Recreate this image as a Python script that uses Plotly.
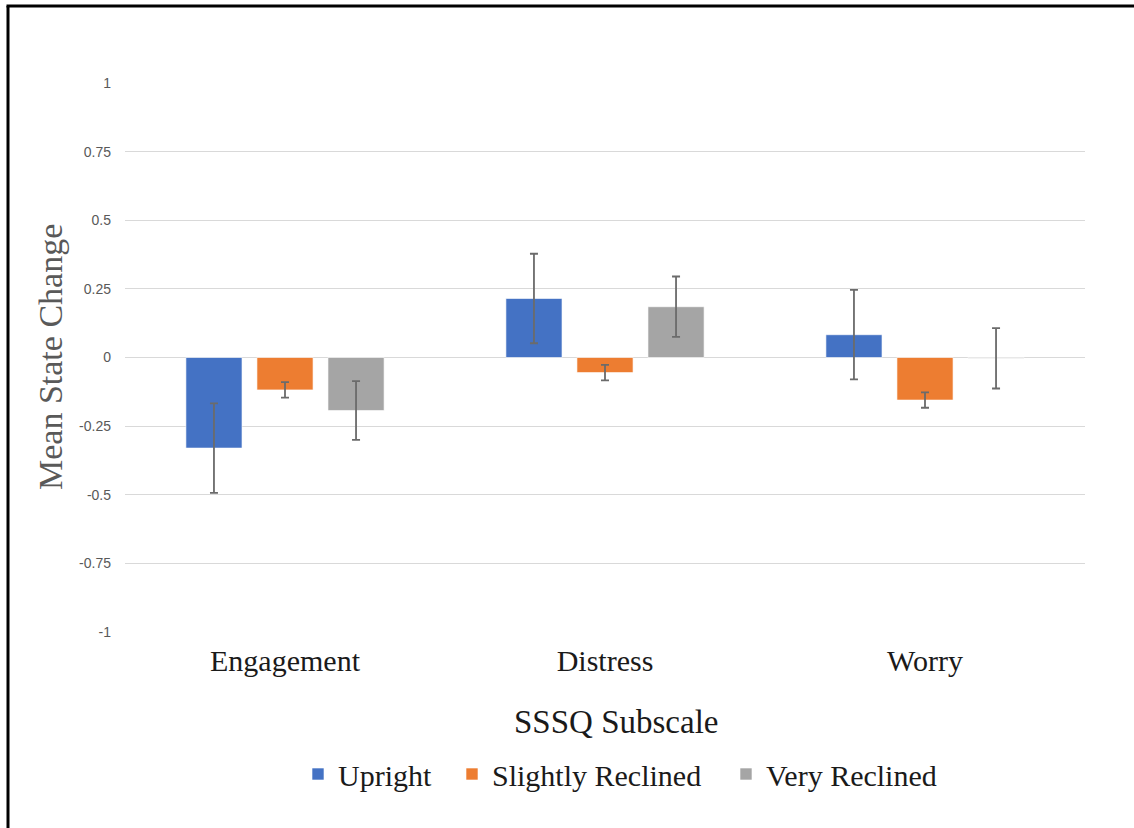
import plotly.graph_objects as go

# SSSQ subscales and posture conditions
subscales = ["Engagement", "Distress", "Worry"]
conditions = ["Upright", "Slightly Reclined", "Very Reclined"]

# Mean state change per condition (one list per condition, ordered by subscale)
upright = [-0.33, 0.215, 0.083]
slightly_reclined = [-0.118, -0.055, -0.155]
very_reclined = [-0.193, 0.185, -0.003]

# Error bar half-lengths
upright_err = [0.163, 0.163, 0.163]
slightly_reclined_err = [0.028, 0.028, 0.028]
very_reclined_err = [0.107, 0.11, 0.11]

y_ticks = [1, 0.75, 0.5, 0.25, 0, -0.25, -0.5, -0.75, -1]
y_tick_labels = ["1", "0.75", "0.5", "0.25", "0", "-0.25", "-0.5", "-0.75", "-1"]

colors = ["#4472C4", "#ED7D31", "#A5A5A5"]
series = [upright, slightly_reclined, very_reclined]
errors = [upright_err, slightly_reclined_err, very_reclined_err]
legend_ids = ["legend", "legend2", "legend3"]

serif = "Liberation Serif, Times New Roman, serif"

fig = go.Figure()
for name, vals, errs, col, lg in zip(conditions, series, errors, colors, legend_ids):
    fig.add_trace(go.Bar(
        x=subscales, y=vals, name=name, legend=lg,
        marker=dict(color=col, line=dict(color="rgba(255,255,255,0.6)", width=1)),
        error_y=dict(type="data", array=errs, visible=True,
                     color="#6b6b6b", thickness=1.8, width=4),
    ))

L, R, T, B = 125, 49, 83, 196
W, H = 1134, 828
pw, ph = W - L - R, H - T - B


def px_x(px):
    return (px - L) / pw


def px_y(py):
    return (H - B - py) / ph


legend_style = dict(orientation="h", xanchor="left", yanchor="middle",
                    y=px_y(774), font=dict(family=serif, size=30, color="#1a1a1a"),
                    itemwidth=30, bgcolor="rgba(0,0,0,0)")
legend_starts = [310, 464, 738]

fig.update_layout(
    width=W, height=H,
    margin=dict(l=L, r=R, t=T, b=B),
    paper_bgcolor="white", plot_bgcolor="white",
    barmode="group", bargap=0.334, bargroupgap=0.21,
    showlegend=True,
    legend=dict(x=px_x(legend_starts[0] - 12), **legend_style),
    legend2=dict(x=px_x(legend_starts[1] - 12), **legend_style),
    legend3=dict(x=px_x(legend_starts[2] - 12), **legend_style),
    xaxis=dict(
        showgrid=False, zeroline=False, showline=False,
        tickfont=dict(family=serif, size=30, color="#1a1a1a"),
        ticks="", ticklabelstandoff=8,
    ),
    yaxis=dict(
        range=[-1, 1], tickvals=y_ticks, ticktext=y_tick_labels,
        showgrid=True, gridcolor="#d9d9d9", gridwidth=1.3,
        zeroline=True, zerolinecolor="#d9d9d9", zerolinewidth=1.3,
        showline=False, ticks="",
        tickfont=dict(family="Liberation Sans, Arial, sans-serif",
                      size=14, color="#595959"),
        ticklabelstandoff=13,
    ),
    annotations=[
        dict(text="Mean State Change", xref="paper", yref="paper",
             x=px_x(50), y=px_y(357), textangle=-90,
             showarrow=False, xanchor="center", yanchor="middle",
             font=dict(family=serif, size=34, color="#595959")),
        dict(text="SSSQ Subscale", xref="paper", yref="paper",
             x=px_x(616), y=px_y(722),
             showarrow=False, xanchor="center", yanchor="middle",
             font=dict(family=serif, size=33, color="#1a1a1a")),
    ],
    shapes=[
        dict(type="line", xref="paper", yref="paper",
             x0=px_x(8), x1=px_x(8), y0=px_y(6), y1=px_y(840),
             line=dict(color="black", width=3)),
        dict(type="line", xref="paper", yref="paper",
             x0=px_x(6.5), x1=px_x(1140), y0=px_y(6), y1=px_y(6),
             line=dict(color="black", width=3)),
    ],
)

fig.write_html("out.html")
